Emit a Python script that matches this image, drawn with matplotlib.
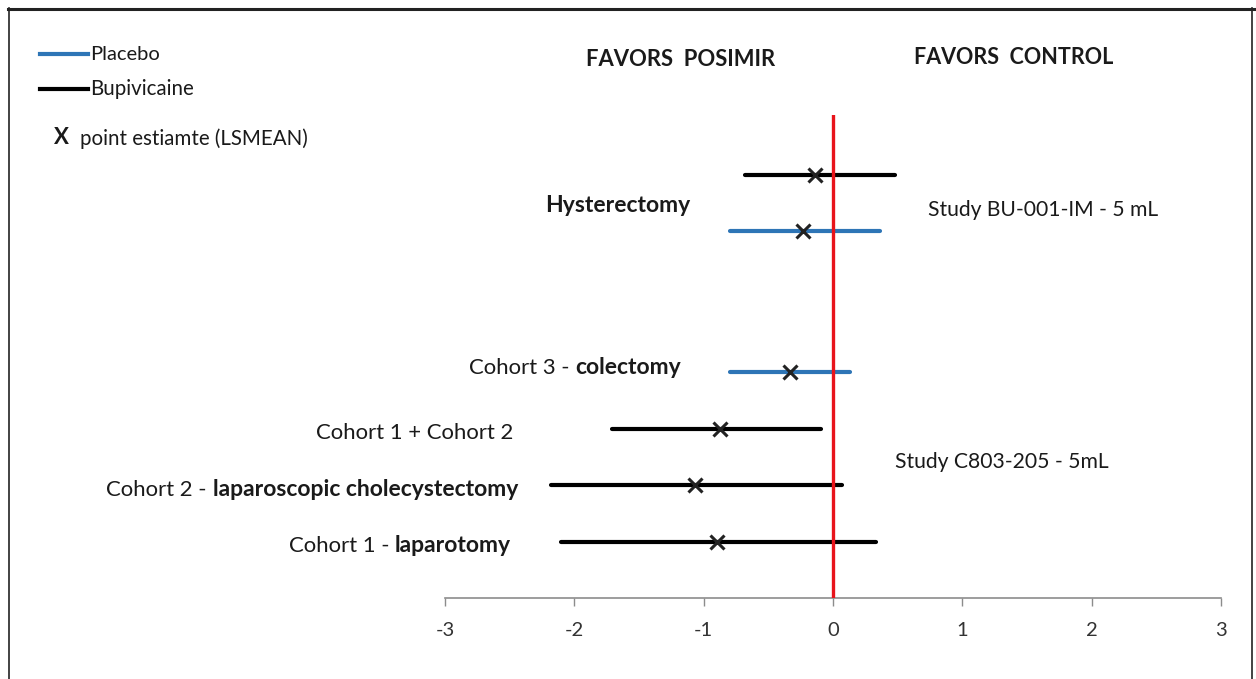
import matplotlib
matplotlib.use("Agg")
import matplotlib.pyplot as plt
from matplotlib.lines import Line2D
from matplotlib.transforms import Affine2D

plt.rcParams['font.family'] = ['Lato', 'DejaVu Sans']

# ---- data ----
rows = ["Hysterectomy - Bupivicaine", "Hysterectomy - Placebo", "Cohort 3 - colectomy",
        "Cohort 1 + Cohort 2", "Cohort 2 - laparoscopic cholecystectomy", "Cohort 1 - laparotomy"]
row_pos = [0, 1, 3.5, 4.5, 5.5, 6.5]
comparator = ["Bupivicaine", "Placebo", "Placebo", "Bupivicaine", "Bupivicaine", "Bupivicaine"]
lower = [-0.68, -0.80, -0.80, -1.71, -2.18, -2.10]
upper = [0.48, 0.36, 0.13, -0.09, 0.07, 0.33]
point = [-0.14, -0.23, -0.33, -0.87, -1.07, -0.90]
xticks = [-3, -2, -1, 0, 1, 2, 3]

colors = {"Placebo": "#2E75B6", "Bupivicaine": "#000000"}

W, H = 1256, 679
fig = plt.figure(figsize=(W / 100, H / 100), dpi=100)
ax = fig.add_axes([445 / W, (H - 598) / H, 776 / W, (598 - 115) / H])
ax.set_xlim(-3, 3)
ax.set_ylim(7.5, -1.06)

for y, lo, hi, c in zip(row_pos, lower, upper, comparator):
    ax.plot([lo, hi], [y, y], color=colors[c], lw=3.0, solid_capstyle='round', zorder=2)
for y, p in zip(row_pos, point):
    ax.plot(p, y, marker='x', color='#222222', ms=10, mew=2.2, zorder=4)

ax.axvline(0, color='#E8141B', lw=2.4, zorder=3)

for s in ['top', 'right', 'left']:
    ax.spines[s].set_visible(False)
ax.spines['bottom'].set_color('#8c8c8c')
ax.spines['bottom'].set_linewidth(1.2)
ax.set_yticks([])
ax.set_xticks(xticks)
ax.set_xticklabels([str(t) for t in xticks])
ax.tick_params(axis='x', direction='out', length=6, width=1.0, color='#8c8c8c',
               labelsize=14.5, labelcolor='#333333', pad=11)

fs = 15.2
fsl = 15.9
fsb = 16.5

# figure pixel coordinates (y from top)
pix = Affine2D().scale(1 / W, -1 / H).translate(0, 1) + fig.transFigure


def rlabel(xr, y, normal, bold):
    if bold:
        tb = ax.annotate(bold, xy=(xr, y), xycoords=pix, ha='right', va='center',
                         fontsize=fsb, fontweight='bold', color='#1a1a1a', annotation_clip=False)
        if normal:
            ax.annotate(normal, xy=(0, 0), xycoords=tb, ha='right', va='bottom',
                        fontsize=fsl, color='#1a1a1a', annotation_clip=False)
    else:
        ax.annotate(normal, xy=(xr, y), xycoords=pix, ha='right', va='center',
                    fontsize=fsl, color='#1a1a1a', annotation_clip=False)


rlabel(690, 206, "", "Hysterectomy")
rlabel(681, 368, "Cohort 3 - ", "colectomy")
rlabel(513, 433, "Cohort 1 + Cohort 2", "")
rlabel(518, 490, "Cohort 2 - ", "laparoscopic cholecystectomy")
rlabel(511, 546, "Cohort 1 - ", "laparotomy")

fig.text(928, 210, "Study BU-001-IM - 5 mL", transform=pix, ha='left', va='center',
         fontsize=fs, color='#1a1a1a')
fig.text(895, 462, "Study C803-205 - 5mL", transform=pix, ha='left', va='center',
         fontsize=fs, color='#1a1a1a')
fig.text(681, 60, "FAVORS  POSIMIR", transform=pix, ha='center', va='center',
         fontsize=15.8, fontweight='bold', color='#1a1a1a')
fig.text(1014, 57, "FAVORS  CONTROL", transform=pix, ha='center', va='center',
         fontsize=15.5, fontweight='bold', color='#1a1a1a')

# legend (manual)
fig.add_artist(Line2D([40, 88], [54, 54], transform=pix, color=colors["Placebo"], lw=3))
fig.text(90, 55, "Placebo", transform=pix, ha='left', va='center', fontsize=14.5, color='#1a1a1a')
fig.add_artist(Line2D([40, 88], [89, 89], transform=pix, color=colors["Bupivicaine"], lw=3))
fig.text(90, 89, "Bupivicaine", transform=pix, ha='left', va='center', fontsize=14.8, color='#1a1a1a')
fig.text(61, 137, "X", transform=pix, ha='center', va='center', fontsize=16,
         fontweight='bold', color='#1a1a1a')
fig.text(80, 139, "point estiamte (LSMEAN)", transform=pix, ha='left', va='center',
         fontsize=14.8, color='#1a1a1a')

# frame
fig.add_artist(Line2D([8, 1256], [9, 9], transform=pix, color='#222222', lw=2.2))
fig.add_artist(Line2D([9, 9], [8, 679], transform=pix, color='#222222', lw=1.2))
fig.add_artist(Line2D([1252, 1252], [8, 679], transform=pix, color='#222222', lw=1.2))

fig.savefig("out.png", dpi=100)
